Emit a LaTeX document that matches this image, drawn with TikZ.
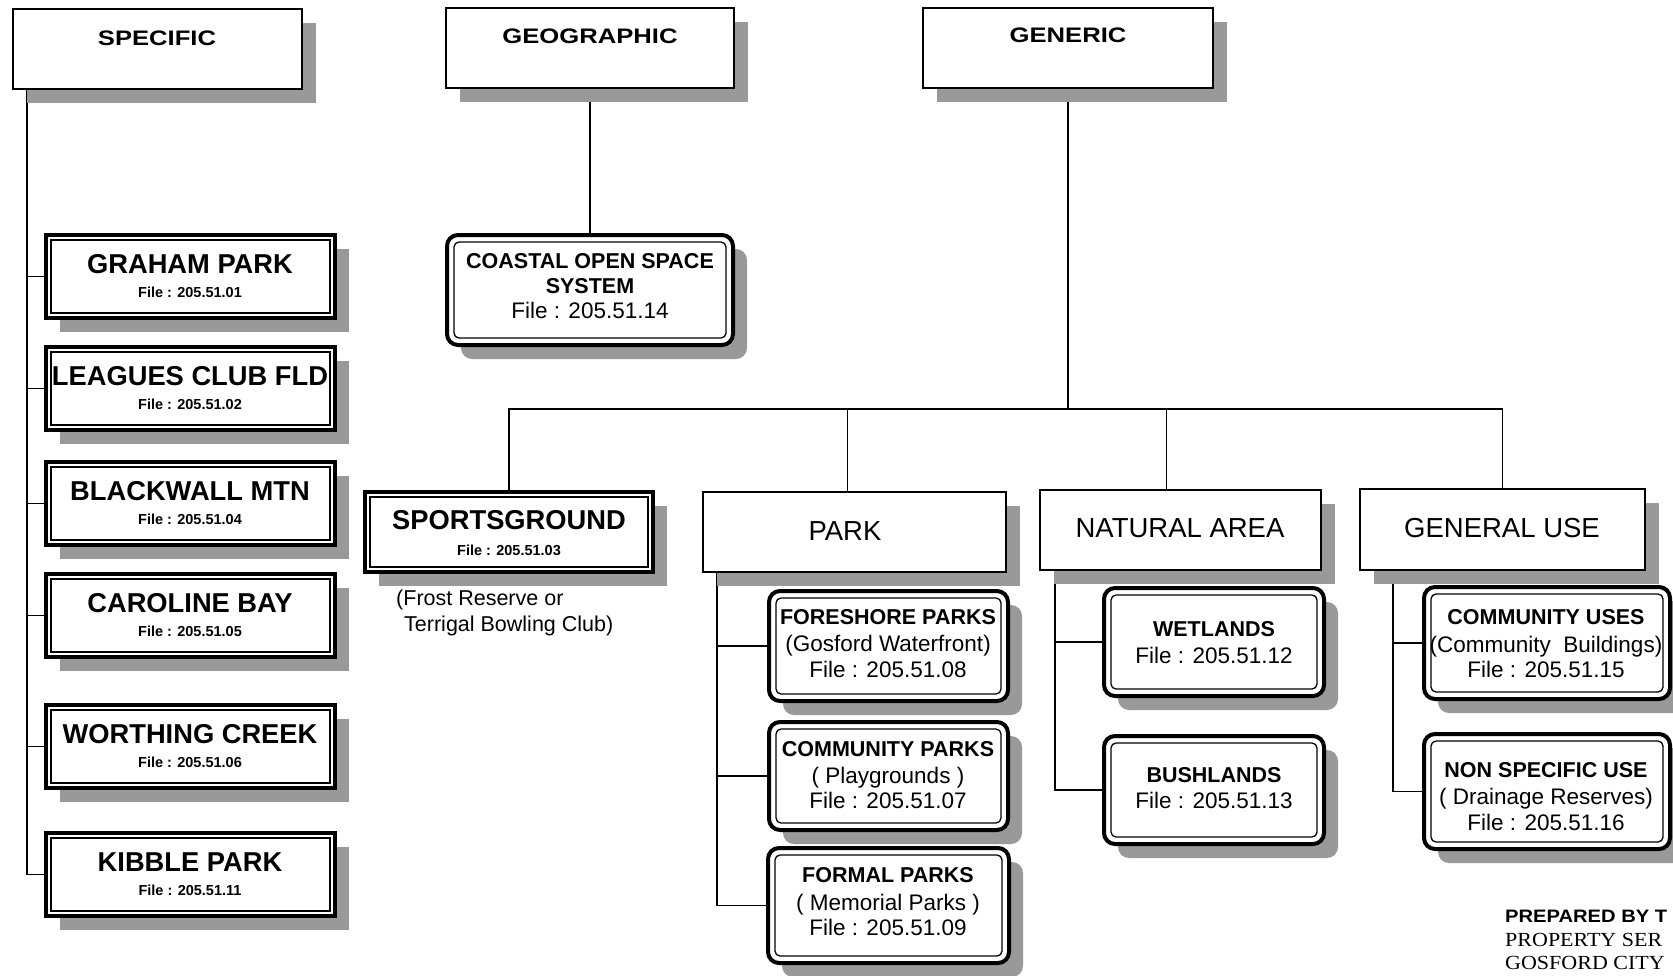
\documentclass[tikz,border=0pt]{standalone}
\usepackage{fontspec}
\setmainfont{Liberation Sans}
\newfontfamily\widesans[FakeStretch=1.22]{Liberation Sans}
\newfontfamily\prepsans[FakeStretch=1.12]{Liberation Sans}
\newfontfamily\serifw[FakeStretch=1.1]{Liberation Serif}
\usetikzlibrary{shadows}
\pgfdeclarelayer{bg}
\pgfsetlayers{bg,main}
\newcommand\fHead{\widesans\bfseries\fontsize{21}{21}\selectfont}
\newcommand\fCat{\fontsize{27.5}{27.5}\selectfont}
\newcommand\fSt{\bfseries\fontsize{27.3}{27.3}\selectfont}
\newcommand\fSf{\bfseries\fontsize{14.5}{14.5}\selectfont}
\newcommand\fRt{\bfseries\fontsize{21.5}{21.5}\selectfont}
\newcommand\fRs{\fontsize{22.5}{22.5}\selectfont}
\newcommand\fNote{\fontsize{21.5}{21.5}\selectfont}
\newcommand\bx[6]{\node[#1, anchor=north west, minimum width=#5pt, minimum height=#6pt] (#2) at (#3,#4) {};}
\newcommand\inr[3]{\draw[innerl,#3] ([shift={(#2pt,-#2pt)}]#1.north west) rectangle ([shift={(-#2pt,#2pt)}]#1.south east);}
\tikzset{
  conn/.style={line width=1.4pt, black},
  shd/.style={drop shadow={shadow xshift=14pt, shadow yshift=-14pt, fill=black!40, draw=none, opacity=1}},
  headbox/.style={draw, line width=1.4pt, fill=white, shd, inner sep=0pt, outer sep=0pt},
  sqbox/.style={draw, line width=3.5pt, fill=white, shd, inner sep=0pt, outer sep=0pt},
  rdbox/.style={draw, line width=4pt, rounded corners=11pt, fill=white, shd, inner sep=0pt, outer sep=0pt},
  innerl/.style={line width=1.3pt},
  ht/.style={inner sep=0pt, text depth=0pt, text height=15pt, font=\fHead},
  ct/.style={inner sep=0pt, text depth=0pt, text height=19.7pt, font=\fCat},
  st/.style={inner sep=0pt, text depth=0pt, text height=19.5pt, font=\fSt},
  sf/.style={inner sep=0pt, text depth=0pt, text height=10.4pt, font=\fSf},
  rt/.style={inner sep=0pt, text depth=0pt, text height=15.4pt, font=\fRt},
  rs/.style={inner sep=0pt, text depth=0pt, text height=16.1pt, font=\fRs},
  note/.style={inner sep=0pt, text depth=0pt, text height=15.4pt, anchor=west, font=\fNote},
}
\begin{document}
\begin{tikzpicture}[x=1pt,y=-1pt]
\useasboundingbox (0,0) rectangle (1673,975);

% ---- top level
\bx{headbox}{spec}{13}{9}{289}{80}
\node[ht] (specT) at (157,38) {SPECIFIC};
\bx{headbox}{geo}{446}{8}{288}{80}
\node[ht] (geoT) at (590,36) {GEOGRAPHIC};
\bx{headbox}{gen}{923}{8}{290}{80}
\node[ht] (genT) at (1068,35) {GENERIC};

% ---- specific children
\bx{sqbox}{gp}{46}{235}{289}{83}\inr{gp}{5}{}
\node[st] (gpT) at (190,264) {GRAHAM PARK};
\node[sf] (gpF) at (190,292) {File : 205.51.01};
\bx{sqbox}{lc}{46}{347}{289}{83}\inr{lc}{5}{}
\node[st] (lcT) at (190,376) {LEAGUES CLUB FLD};
\node[sf] (lcF) at (190,404) {File : 205.51.02};
\bx{sqbox}{bm}{46}{462}{289}{83}\inr{bm}{5}{}
\node[st] (bmT) at (190,491) {BLACKWALL MTN};
\node[sf] (bmF) at (190,519) {File : 205.51.04};
\bx{sqbox}{cb}{46}{574}{289}{83}\inr{cb}{5}{}
\node[st] (cbT) at (190,603) {CAROLINE BAY};
\node[sf] (cbF) at (190,631) {File : 205.51.05};
\bx{sqbox}{wc}{46}{705}{289}{83}\inr{wc}{5}{}
\node[st] (wcT) at (190,734) {WORTHING CREEK};
\node[sf] (wcF) at (190,762) {File : 205.51.06};
\bx{sqbox}{kp}{46}{833}{289}{83}\inr{kp}{5}{}
\node[st] (kpT) at (190,862) {KIBBLE PARK};
\node[sf] (kpF) at (190,890) {File : 205.51.11};

% ---- geographic child
\bx{rdbox}{cos}{447}{235}{286}{110}\inr{cos}{7}{rounded corners=5pt}
\node[rt] (cosA) at (590,261) {COASTAL OPEN SPACE};
\node[rt] (cosB) at (590,286) {SYSTEM};
\node[rs] (cosF) at (590,310) {File : 205.51.14};

% ---- generic level 2
\bx{sqbox}{spg}{365}{492}{288}{80}\inr{spg}{5}{}
\node[st] (spgT) at (509,520) {SPORTSGROUND};
\node[sf] (spgF) at (509,550) {File : 205.51.03};
\node[note] (spgN1) at (396,598) {(Frost Reserve or};
\node[note] (spgN2) at (404,624) {Terrigal Bowling Club)};

\bx{headbox}{park}{703}{492}{303}{80}
\node[ct] (parkT) at (845,531) {PARK};
\bx{headbox}{nat}{1040}{490}{281}{80}
\node[ct] (natT) at (1180,528) {NATURAL AREA};
\bx{headbox}{gu}{1360}{489}{285}{81}
\node[ct] (guT) at (1502,528) {GENERAL USE};

% ---- park children
\bx{rdbox}{fp}{769}{591}{239}{110}\inr{fp}{7}{rounded corners=5pt}
\node[rt] (fpA) at (888,617) {FORESHORE PARKS};
\node[rs] (fpB) at (888,643) {(Gosford Waterfront)};
\node[rs] (fpF) at (888,669) {File : 205.51.08};
\bx{rdbox}{cp}{769}{722}{239}{108}\inr{cp}{7}{rounded corners=5pt}
\node[rt] (cpA) at (888,749) {COMMUNITY PARKS};
\node[rs] (cpB) at (888,775) {( Playgrounds )};
\node[rs] (cpF) at (888,800) {File : 205.51.07};
\bx{rdbox}{fm}{768}{848}{241}{115}\inr{fm}{7}{rounded corners=5pt}
\node[rt] (fmA) at (888,875) {FORMAL PARKS};
\node[rs] (fmB) at (888,902) {( Memorial Parks )};
\node[rs] (fmF) at (888,927) {File : 205.51.09};

% ---- natural children
\bx{rdbox}{wl}{1104}{588}{220}{108}\inr{wl}{7}{rounded corners=5pt}
\node[rt] (wlA) at (1214,629) {WETLANDS};
\node[rs] (wlF) at (1214,655) {File : 205.51.12};
\bx{rdbox}{bl}{1104}{736}{220}{108}\inr{bl}{7}{rounded corners=5pt}
\node[rt] (blA) at (1214,775) {BUSHLANDS};
\node[rs] (blF) at (1214,800) {File : 205.51.13};

% ---- general use children
\bx{rdbox}{cu}{1424}{587}{246}{112}\inr{cu}{7}{rounded corners=5pt}
\node[rt] (cuA) at (1546,617) {COMMUNITY USES};
\node[rs] (cuB) at (1546,644) {(Community\ \ Buildings)};
\node[rs] (cuF) at (1546,669) {File : 205.51.15};
\bx{rdbox}{ns}{1424}{734}{246}{115}\inr{ns}{7}{rounded corners=5pt}
\node[rt] (nsA) at (1546,770) {NON SPECIFIC USE};
\node[rs] (nsB) at (1546,796) {( Drainage Reserves)};
\node[rs] (nsF) at (1546,822) {File : 205.51.16};

% ---- footer
\node[anchor=west, inner sep=0pt, text depth=0pt, text height=13pt, font=\prepsans\bfseries\fontsize{18}{18}\selectfont] (prep1) at (1505,916) {PREPARED BY T};
\node[anchor=west, inner sep=0pt, text depth=0pt, text height=13.2pt, font=\serifw\fontsize{20}{20}\selectfont] (prep2) at (1505,940) {PROPERTY SER};
\node[anchor=west, inner sep=0pt, text depth=0pt, text height=13.2pt, font=\serifw\fontsize{20}{20}\selectfont] (prep3) at (1505,963) {GOSFORD CITY};

% ---- connectors
\begin{pgfonlayer}{bg}
\coordinate (sroot) at ([xshift=14pt]spec.south west);
\foreach \n in {gp,lc,bm,cb,wc,kp} \draw[conn] (sroot) |- (\n.west);
\draw[conn] (geo.south) -- (cos.north);
\coordinate (gj) at (gen.south |- 0,409);
\draw[conn] (gen.south) -- (gj);
\draw[conn] (spg.north) |- (gj);
\draw[conn] ([xshift=-7pt]park.north) |- (gj);
\draw[conn] ([xshift=-14pt]nat.north) |- (gj);
\draw[conn] (gu.north) |- (gj);
\coordinate (pr) at ([xshift=14pt]park.south west);
\foreach \n in {fp,cp,fm} \draw[conn] (pr) |- (\n.west);
\coordinate (nr) at ([xshift=15pt]nat.south west);
\foreach \n in {wl,bl} \draw[conn] (nr) |- (\n.west);
\coordinate (gr) at ([xshift=33pt]gu.south west);
\foreach \n in {cu,ns} \draw[conn] (gr) |- (\n.west);
\end{pgfonlayer}
\end{tikzpicture}
\end{document}
